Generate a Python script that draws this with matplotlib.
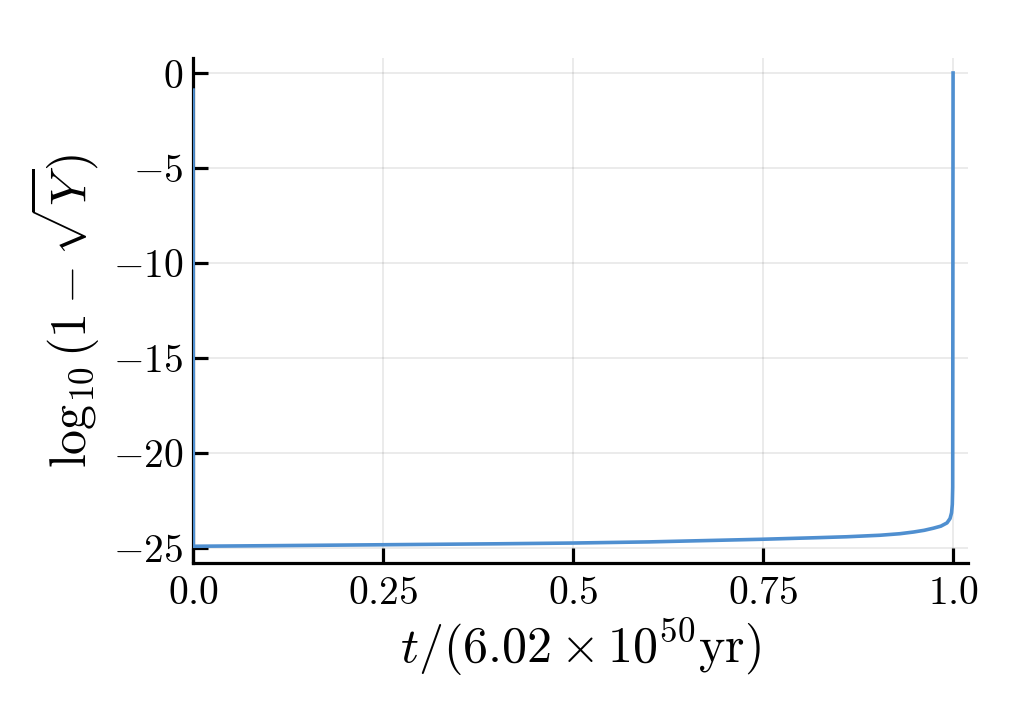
import matplotlib
matplotlib.use('Agg')
import matplotlib.pyplot as plt

plt.rcParams['mathtext.fontset'] = 'cm'
plt.rcParams['font.family'] = ['DejaVu Serif']

# values
t_vals = [0.0, 0.0003, 0.1, 0.25, 0.4, 0.5, 0.6, 0.75, 0.82, 0.86, 0.904,
          0.93, 0.948, 0.962, 0.974, 0.984, 0.992, 0.996, 0.998, 0.999,
          0.9995, 1.0]
logy_vals = [-0.9, -24.91, -24.88, -24.83, -24.78, -24.74, -24.68, -24.54,
             -24.46, -24.41, -24.33, -24.25, -24.16, -24.07, -23.96, -23.85,
             -23.68, -23.45, -23.15, -22.7, -21.8, 0.0]

xticks = [0.0, 0.25, 0.5, 0.75, 1.0]
xtick_labels = ['0.0', '0.25', '0.5', '0.75', '1.0']
yticks = [0, -5, -10, -15, -20, -25]
ytick_labels = ['0', '-5', '-10', '-15', '-20', '-25']

fig = plt.figure(figsize=(10.27, 7.24), dpi=100)
ax = fig.add_axes([0.188, 0.2224, 0.7546, 0.6975])

ax.plot(t_vals, logy_vals, color='#4f8fd0', lw=2.6, zorder=3)

ax.set_xlim(0, 1.0197)
ax.set_ylim(-25.79, 0.79)

ax.set_xticks(xticks)
ax.set_xticklabels(['$' + s + '$' for s in xtick_labels])
ax.set_yticks(yticks)
ax.set_yticklabels(['$' + s + '$' for s in ytick_labels])

ax.grid(True, color='black', alpha=0.1, lw=1.1)
for side in ['top', 'right']:
    ax.spines[side].set_visible(False)
for side in ['left', 'bottom']:
    ax.spines[side].set_linewidth(2.3)
ax.tick_params(direction='in', length=11, width=2.3, labelsize=28.5, pad=7)
ax.tick_params(axis='x', pad=9)

ax.set_xlabel(r'$t/(6.02\times10^{50}\mathrm{yr})$', fontsize=36, labelpad=3)
ax.set_ylabel(r'$\log_{10}(1-\sqrt{Y})$', fontsize=36, labelpad=8)

fig.savefig('out.png', dpi=100)
